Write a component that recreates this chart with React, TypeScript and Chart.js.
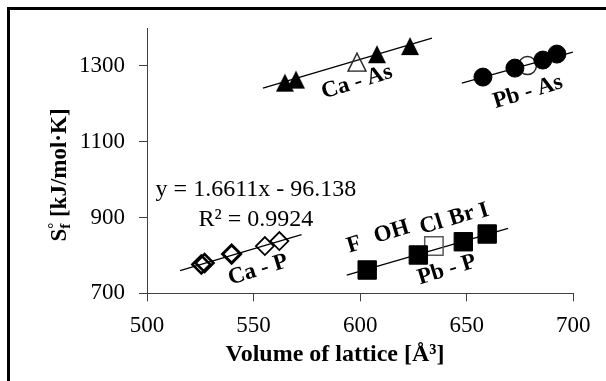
import React, { useEffect, useRef } from 'react';
import { Chart, registerables } from 'chart.js';
Chart.register(...registerables);

// ---- data (Volume of lattice [Å³], S°f [kJ/mol·K]) ----
const caAsX = [564.7, 569.9, 607.9, 623.4];
const caAsY = [1256, 1264, 1331, 1352.5];
const caAsOpenX = [598.5];
const caAsOpenY = [1310];

const pbAsX = [657.6, 672.6, 685.7, 692.3];
const pbAsY = [1270.7, 1294.4, 1315.6, 1331.4];
const pbAsOpenX = [678.5];
const pbAsOpenY = [1301];

const caPX = [525.5, 527, 539.7, 555.3, 562.1];
const caPY = [776, 780, 803.7, 824.8, 838];

const pbPX = [603.3, 627.3, 648.4, 659.6];
const pbPY = [761.5, 801.1, 836.1, 856.5];
const pbPOpenX = [634.6];
const pbPOpenY = [824.8];

// trendlines
const caAsTrendX = [554.4, 633.7];
const caAsTrendY = [1241.7, 1373.6];
const pbAsTrendX = [647.7, 699.8];
const pbAsTrendY = [1254.9, 1336.7];
const caPSlope = 1.6611;
const caPIntercept = -96.138;
const caPTrendX = [515.5, 572.5];
const pbPTrendX = [593.7, 669.4];
const pbPTrendY = [748.3, 871.5];

const xTicks = [500, 550, 600, 650, 700];
const yTicks = [700, 900, 1100, 1300];

// text annotations (in data units)
const groupLabels = ['Ca - As', 'Pb - As', 'Ca - P', 'Pb - P'];
const groupLabelX = [598.5, 678.7, 552.1, 640.7];
const groupLabelY = [1257.2, 1230.8, 761.5, 761.5];
const ionLabels = ['F', 'OH', 'Cl', 'Br', 'I'];
const ionLabelX = [597.2, 614.8, 633.4, 647.7, 658.1];
const ionLabelY = [827.4, 861.5, 880.3, 904, 917.1];
const eqLines = ['y = 1.6611x - 96.138', 'R² = 0.9924'];
const eqX = 551.1;
const eqY = [972.6, 893.4];

const pts = (xs: number[], ys: number[]) => xs.map((x, i) => ({ x, y: ys[i] }));

function makeTriangle(filled: boolean) {
  const c = document.createElement('canvas');
  c.width = 20;
  c.height = 20;
  const g = c.getContext('2d')!;
  g.beginPath();
  g.moveTo(10, 1);
  g.lineTo(19, 19);
  g.lineTo(1, 19);
  g.closePath();
  if (filled) {
    g.fillStyle = '#000';
    g.fill();
  } else {
    g.lineWidth = 1.5;
    g.strokeStyle = '#262626';
    g.stroke();
  }
  return c;
}

const SERIF = '"Liberation Serif", "Times New Roman", serif';

export default function App() {
  const ref = useRef<HTMLCanvasElement>(null);
  useEffect(() => {
    if (!ref.current) return;
    const triFilled = makeTriangle(true);
    const triOpen = makeTriangle(false);

    const overlay = {
      id: 'overlay',
      afterDraw(chart: any) {
        const ctx = chart.ctx;
        const xs = chart.scales.x;
        const ys = chart.scales.y;
        ctx.save();
        // outer frame (left and top visible)
        ctx.fillStyle = '#000';
        ctx.fillRect(7, 7, 3, 381);
        ctx.fillRect(7, 7, 606, 3);

        ctx.fillStyle = '#000';
        ctx.textAlign = 'center';
        ctx.textBaseline = 'middle';
        const rot = (-17 * Math.PI) / 180;
        const drawRot = (t: string, vx: number, vy: number) => {
          ctx.save();
          ctx.translate(xs.getPixelForValue(vx), ys.getPixelForValue(vy));
          ctx.rotate(rot);
          ctx.fillText(t, 0, 0);
          ctx.restore();
        };
        ctx.font = `bold 23px ${SERIF}`;
        groupLabels.forEach((t, i) => drawRot(t, groupLabelX[i], groupLabelY[i]));
        ionLabels.forEach((t, i) => drawRot(t, ionLabelX[i], ionLabelY[i]));

        ctx.font = `24px ${SERIF}`;
        eqLines.forEach((t, i) => ctx.fillText(t, xs.getPixelForValue(eqX), ys.getPixelForValue(eqY[i])));

        // x title
        ctx.font = `bold 24px ${SERIF}`;
        ctx.fillText('Volume of lattice [Å³]', 335, 355);

        // y title with super/subscript
        ctx.save();
        ctx.translate(58, 175);
        ctx.rotate(-Math.PI / 2);
        ctx.textAlign = 'left';
        ctx.textBaseline = 'alphabetic';
        const big = `bold 23px ${SERIF}`;
        const small = `bold 15px ${SERIF}`;
        ctx.font = big;
        const wS = ctx.measureText('S').width;
        const rest = ' [kJ/mol·K]';
        const wR = ctx.measureText(rest).width;
        ctx.font = small;
        const wSub = Math.max(ctx.measureText('°').width, ctx.measureText('f').width);
        const W = wS + wSub + wR;
        let x0 = -W / 2;
        const base = 8;
        ctx.font = big;
        ctx.fillText('S', x0, base);
        x0 += wS;
        ctx.font = small;
        ctx.fillText('°', x0, base - 8);
        ctx.fillText('f', x0, base + 4);
        x0 += wSub;
        ctx.font = big;
        ctx.fillText(rest, x0, base);
        ctx.restore();

        ctx.restore();
      },
    };

    const line = (xs: number[], ys: number[]) => ({
      type: 'scatter',
      data: pts(xs, ys),
      showLine: true,
      borderColor: '#000',
      borderWidth: 1.3,
      pointRadius: 0,
      fill: false,
      order: 5,
    });

    const chart = new Chart(ref.current, {
      type: 'scatter',
      data: {
        datasets: [
          line(caAsTrendX, caAsTrendY) as any,
          line(pbAsTrendX, pbAsTrendY) as any,
          line(caPTrendX, caPTrendX.map((x) => caPSlope * x + caPIntercept)) as any,
          line(pbPTrendX, pbPTrendY) as any,
          {
            data: pts(caAsX, caAsY),
            pointStyle: triFilled,
            order: 1,
          },
          {
            data: pts(caAsOpenX, caAsOpenY),
            pointStyle: triOpen,
            order: 1,
          },
          {
            data: pts(pbAsX, pbAsY),
            pointStyle: 'circle',
            pointRadius: 9,
            backgroundColor: '#000',
            borderColor: '#000',
            borderWidth: 1,
            order: 1,
          },
          {
            data: pts(pbAsOpenX, pbAsOpenY),
            pointStyle: 'circle',
            pointRadius: 9,
            backgroundColor: 'rgba(0,0,0,0)',
            borderColor: '#262626',
            borderWidth: 1.5,
            order: 1,
          },
          {
            data: pts(caPX, caPY),
            pointStyle: 'rectRot',
            pointRadius: 9,
            backgroundColor: 'rgba(0,0,0,0)',
            borderColor: '#000',
            borderWidth: [2.5, 2.5, 3, 1.8, 1.8],
            order: 1,
          },
          {
            data: pts(pbPX, pbPY),
            pointStyle: 'rect',
            pointRadius: 13,
            backgroundColor: '#000',
            borderColor: '#000',
            borderWidth: 1,
            order: 1,
          },
          {
            data: pts(pbPOpenX, pbPOpenY),
            pointStyle: 'rect',
            pointRadius: 13,
            backgroundColor: 'rgba(0,0,0,0)',
            borderColor: '#595959',
            borderWidth: 1.5,
            order: 1,
          },
        ],
      },
      options: {
        animation: false,
        responsive: false,
        events: [],
        layout: { padding: { left: 0, right: 32.7, top: 28.1, bottom: 0 } },
        plugins: { legend: { display: false }, tooltip: { enabled: false } },
        scales: {
          x: {
            type: 'linear',
            min: 500,
            max: 700,
            afterBuildTicks: (s: any) => {
              s.ticks = xTicks.map((v) => ({ value: v }));
            },
            afterFit: (s: any) => {
              s.height = 87.7;
            },
            ticks: {
              font: { family: SERIF, size: 23 },
              color: '#000',
              padding: 11,
              callback: (v: any) => String(v),
            },
            grid: { drawOnChartArea: false, drawTicks: true, tickLength: 8, color: '#404040', lineWidth: 1 },
            border: { display: true, color: '#404040', width: 1 },
          },
          y: {
            type: 'linear',
            min: 700,
            max: 1400,
            afterBuildTicks: (s: any) => {
              s.ticks = yTicks.map((v) => ({ value: v }));
            },
            afterFit: (s: any) => {
              s.width = 147;
            },
            ticks: {
              font: { family: SERIF, size: 23 },
              color: '#000',
              padding: 14,
              callback: (v: any) => String(v),
            },
            grid: { drawOnChartArea: false, drawTicks: true, tickLength: 8, color: '#404040', lineWidth: 1 },
            border: { display: true, color: '#404040', width: 1 },
          },
        },
      },
      plugins: [overlay],
    } as any);
    return () => chart.destroy();
  }, []);

  return (
    <div style={{ position: 'fixed', left: 0, top: 0, width: 606, height: 381, background: '#fff' }}>
      <canvas ref={ref} width={606} height={381} style={{ display: 'block' }} />
    </div>
  );
}
